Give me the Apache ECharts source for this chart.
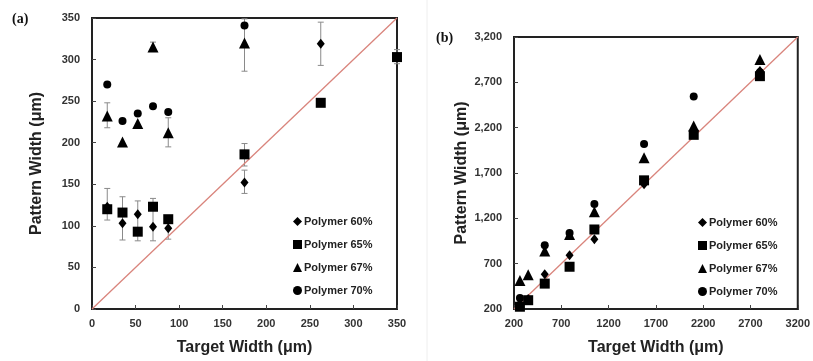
<!DOCTYPE html>
<html>
<head>
<meta charset="utf-8">
<script src="https://cdn.jsdelivr.net/npm/echarts@6/dist/echarts.min.js"></script>
<style>
  html, body { margin: 0; padding: 0; background: #fff; }
</style>
</head>
<body>
<!-- 两个散点图 (a) (b) -->
<div id="main" style="width: 813px; height: 361px"></div>
<script>
// panel (a)
const targetA = [17.5, 35, 52.5, 70, 87.5, 175, 262.5, 350]
const p60A = [123, 103, 114, 99, 97, 152, 319, 303]
const p65A = [120, 116, 93, 123, 108, 186, 248, 303]
const p67A = [232, 201, 223, 315, 212, 320, null, null]
const p70A = [270, 226, 235, 244, 237, 341, null, null]
// [x, low, high]
const errA = [
  [17.5, 107, 145], [17.5, 218, 248], [35, 83, 135], [52.5, 82, 130],
  [70, 82, 133], [70, 310, 321], [87.5, 84, 112], [87.5, 195, 230],
  [175, 139, 167], [175, 172, 199], [175, 286, 349], [262.5, 293, 345],
  [350, 295, 312]
]
// panel (b)
const targetB = [262.5, 350, 525, 787.5, 1050, 1575, 2100, 2800]
const p60B = [262, 310, 583, 793, 969, 1576, 2170, 2825]
const p65B = [225, 297, 480, 666, 1077, 1619, 2121, 2768]
const p67B = [514, 579, 839, 1022, 1273, 1868, 2218, 2952]
const p70B = [322, null, 904, 1037, 1359, 2020, 2543, 2810]

const names = ['Polymer 60%', 'Polymer 65%', 'Polymer 67%', 'Polymer 70%']
const symbols = ['diamond', 'rect', 'triangle', 'circle']
const sizes = [[8, 10], 10, 11, 8]

function pairs(xs, ys) {
  const out = []
  for (let i = 0; i < xs.length; i++) {
    if (ys[i] != null) out.push([xs[i], ys[i]])
  }
  return out
}

const chart = echarts.init(document.getElementById('main'))
const fontFam = '"Liberation Sans", Arial, sans-serif'

function xAxis(idx, min, max, interval, gap) {
  return {
    gridIndex: idx,
    type: 'value',
    min: min,
    max: max,
    interval: interval,
    name: 'Target Width (μm)',
    nameLocation: 'middle',
    nameGap: gap,
    nameTextStyle: { fontSize: 16, fontWeight: 'bold', color: '#222', fontFamily: fontFam },
    axisLine: { lineStyle: { color: '#222', width: 2 } },
    axisTick: { inside: true, length: 4, lineStyle: { color: '#444' } },
    axisLabel: { margin: 9, fontSize: 11, fontWeight: 'bold', color: '#333', fontFamily: fontFam, formatter: v => String(v) },
    splitLine: { show: false }
  }
}

function yAxis(idx, min, max, interval, gap, fmt) {
  return {
    gridIndex: idx,
    type: 'value',
    min: min,
    max: max,
    interval: interval,
    name: 'Pattern Width (μm)',
    nameLocation: 'middle',
    nameGap: gap,
    nameTextStyle: { fontSize: 16, fontWeight: 'bold', color: '#222', fontFamily: fontFam },
    axisLine: { lineStyle: { color: '#222', width: 2 } },
    axisTick: { inside: true, length: 4, lineStyle: { color: '#444' } },
    axisLabel: { margin: 12, fontSize: 11, fontWeight: 'bold', color: '#333', fontFamily: fontFam, formatter: fmt },
    splitLine: { show: false }
  }
}

function errSeries(xi, yi, data) {
  return {
    type: 'custom',
    xAxisIndex: xi,
    yAxisIndex: yi,
    silent: true,
    z: 1,
    data: data,
    renderItem: function(params, api) {
      const lo = api.coord([api.value(0), api.value(1)])
      const hi = api.coord([api.value(0), api.value(2)])
      const style = { stroke: '#8a8a8a', lineWidth: 1 }
      return {
        type: 'group',
        children: [
          { type: 'line', shape: { x1: lo[0], y1: lo[1], x2: hi[0], y2: hi[1] }, style: style },
          { type: 'line', shape: { x1: lo[0] - 3, y1: lo[1], x2: lo[0] + 3, y2: lo[1] }, style: style },
          { type: 'line', shape: { x1: hi[0] - 3, y1: hi[1], x2: hi[0] + 3, y2: hi[1] }, style: style }
        ]
      }
    }
  }
}

const seriesData = []
const setsA = [p60A, p65A, p67A, p70A]
const setsB = [p60B, p65B, p67B, p70B]
seriesData.push(errSeries(0, 0, errA))
seriesData.push({
  type: 'line', xAxisIndex: 0, yAxisIndex: 0, symbol: 'none', silent: true, z: 2,
  lineStyle: { color: '#d9847c', width: 1.3 },
  data: [[0, 0], [350, 350]]
})
seriesData.push({
  type: 'line', xAxisIndex: 1, yAxisIndex: 1, symbol: 'none', silent: true, z: 2,
  lineStyle: { color: '#d9847c', width: 1.3 },
  data: [[200, 200], [3200, 3200]]
})
for (let i = 0; i < 4; i++) {
  seriesData.push({
    name: names[i], type: 'scatter', xAxisIndex: 0, yAxisIndex: 0, z: 3,
    symbol: symbols[i], symbolSize: sizes[i],
    itemStyle: { color: '#000', opacity: 1 },
    data: pairs(targetA, setsA[i])
  })
  seriesData.push({
    name: names[i], type: 'scatter', xAxisIndex: 1, yAxisIndex: 1, z: 3,
    symbol: symbols[i], symbolSize: sizes[i],
    itemStyle: { color: '#000', opacity: 1 },
    data: pairs(targetB, setsB[i])
  })
}

const legendBase = {
  orient: 'vertical',
  data: names.map((n, i) => ({ name: n, icon: symbols[i] })),
  itemWidth: 9,
  itemHeight: 9,
  itemGap: 12,
  selectedMode: false,
  textStyle: { fontSize: 11, fontWeight: 'bold', color: '#222', fontFamily: fontFam, padding: [0, 0, 0, -3] }
}

const option = {
  animation: false,
  backgroundColor: '#fff',
  grid: [
    { left: 92, top: 18, width: 305, height: 294, show: true, borderColor: '#222', borderWidth: 2 },
    { left: 514, top: 37, width: 287, height: 277, show: true, borderColor: '#222', borderWidth: 2 }
  ],
  xAxis: [xAxis(0, 0, 350, 50, 31), xAxis(1, 200, 3200, 500, 31)],
  yAxis: [
    yAxis(0, 0, 350, 50, 47, v => String(v)),
    yAxis(1, 200, 3200, 500, 44, v => v.toLocaleString('en-US'))
  ],
  legend: [
    Object.assign({ left: 288, top: 211 }, legendBase),
    Object.assign({ left: 693, top: 212 }, legendBase)
  ],
  graphic: [
    { type: 'text', left: 12, top: 12, style: { text: '(a)', font: 'bold 14px "Liberation Serif", serif', fill: '#111' } },
    { type: 'text', left: 436, top: 31, style: { text: '(b)', font: 'bold 14px "Liberation Serif", serif', fill: '#111' } },
    { type: 'line', shape: { x1: 427, y1: 0, x2: 427, y2: 361 }, style: { stroke: '#eeeeee', lineWidth: 1 } }
  ],
  series: seriesData
}

chart.setOption(option)
window.onresize = () => {
  chart.resize()
}
</script>
</body>
</html>
